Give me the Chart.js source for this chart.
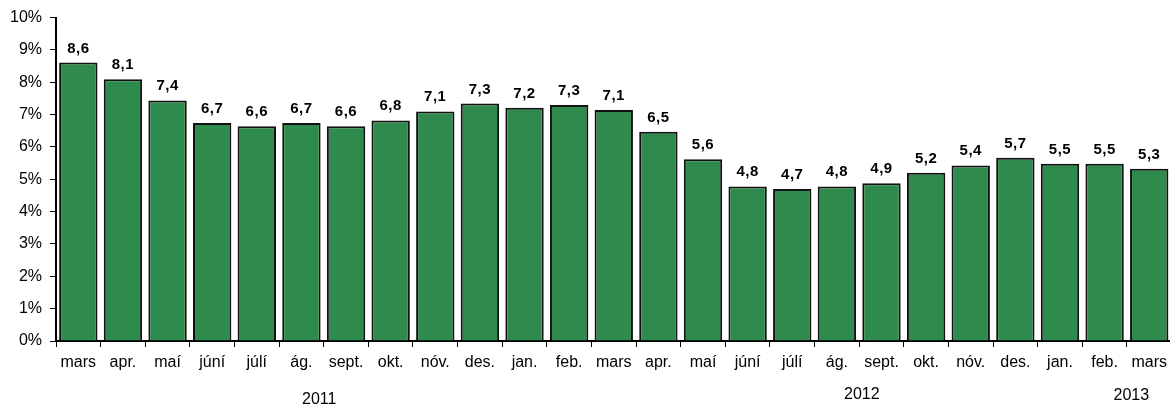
<!DOCTYPE html>
<html>
<head>
<meta charset="utf-8">
<script src="https://cdn.jsdelivr.net/npm/chart.js@4"></script>
<style>
  html, body { margin: 0; padding: 0; background: #fff; overflow: hidden; width: 1170px; height: 406px; }
  canvas { display: block; }
</style>
</head>
<body>
<canvas id="c" width="1173" height="406"></canvas>
<script>
const categories = ['mars','apr.','maí','júní','júlí','ág.','sept.','okt.','nóv.','des.','jan.','feb.','mars','apr.','maí','júní','júlí','ág.','sept.','okt.','nóv.','des.','jan.','feb.','mars'];
const values = [8.61, 8.09, 7.44, 6.74, 6.64, 6.74, 6.64, 6.82, 7.1, 7.34, 7.21, 7.3, 7.14, 6.47, 5.62, 4.78, 4.7, 4.78, 4.88, 5.2, 5.43, 5.67, 5.48, 5.48, 5.33];
const yearLabels = ['2011', '2012', '2013'];
const yearPositions = [5.4, 17.56, 23.6];
const yTicks = [0,1,2,3,4,5,6,7,8,9,10];

const FONT = '"Liberation Sans", Arial, sans-serif';

const dataLabelPlugin = {
  id: 'dataLabels',
  afterDatasetsDraw(chart) {
    const ctx = chart.ctx;
    const meta = chart.getDatasetMeta(0);
    ctx.save();
    ctx.font = 'bold 15px ' + FONT;
    ctx.fillStyle = '#000';
    ctx.textAlign = 'center';
    ctx.textBaseline = 'alphabetic';
    try { ctx.letterSpacing = '0.5px'; } catch (e) {}
    meta.data.forEach((bar, i) => {
      const txt = values[i].toFixed(1).replace('.', ',');
      ctx.fillText(txt, bar.x, bar.y - 10);
    });
    ctx.restore();
  }
};

const yearPlugin = {
  id: 'yearLabels',
  afterDraw(chart) {
    const ctx = chart.ctx;
    const xs = chart.scales.x;
    const base = chart.chartArea.bottom;
    const dy = [63, 58, 59];
    ctx.save();
    ctx.font = '16px ' + FONT;
    ctx.fillStyle = '#000';
    ctx.textAlign = 'center';
    ctx.textBaseline = 'alphabetic';
    yearLabels.forEach((y, i) => {
      ctx.fillText(y, xs.getPixelForValue(yearPositions[i]), base + dy[i]);
    });
    ctx.restore();
  }
};

new Chart(document.getElementById('c'), {
  type: 'bar',
  data: {
    labels: categories,
    datasets: [{
      data: values,
      backgroundColor: '#2f8a4d',
      borderColor: '#111',
      borderWidth: 2,
      barPercentage: 0.86,
      categoryPercentage: 1.0
    }]
  },
  options: {
    responsive: false,
    animation: false,
    devicePixelRatio: 1,
    layout: { padding: { top: 17, left: 0, right: 0, bottom: 0 } },
    plugins: { legend: { display: false }, tooltip: { enabled: false } },
    scales: {
      x: {
        offset: true,
        grid: { display: true, drawOnChartArea: false, drawTicks: true, tickLength: 6, color: '#000', lineWidth: 1, offset: true },
        border: { display: true, color: '#000', width: 2 },
        ticks: { color: '#000', font: { family: FONT, size: 16 }, padding: 6, maxRotation: 0, autoSkip: false },
        afterFit(scale) { scale.height = 65; }
      },
      y: {
        min: 0, max: 10,
        afterBuildTicks(scale) { scale.ticks = yTicks.map(v => ({ value: v })); },
        grid: { display: true, drawOnChartArea: false, drawTicks: true, tickLength: 6, color: '#000', lineWidth: 1 },
        border: { display: true, color: '#000', width: 2 },
        ticks: { color: '#000', font: { family: FONT, size: 16 }, padding: 8, callback: v => v + '%' },
        afterFit(scale) { scale.width = 56; }
      }
    }
  },
  plugins: [dataLabelPlugin, yearPlugin]
});
</script>
</body>
</html>
